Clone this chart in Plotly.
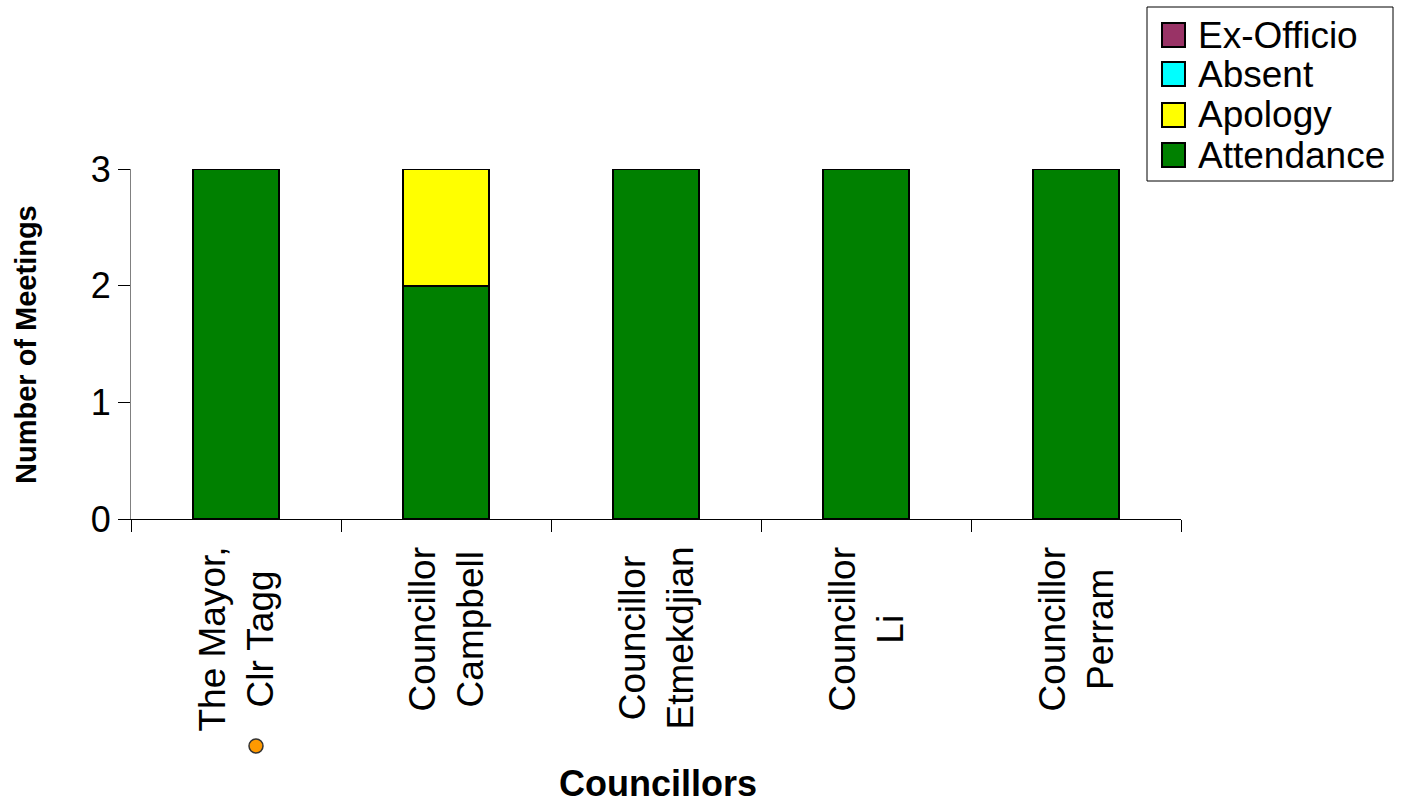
import plotly.graph_objects as go

# Councillor attendance at meetings
councillors = ["The Mayor,<br>Clr Tagg", "Councillor<br>Campbell", "Councillor<br>Etmekdjian",
               "Councillor<br>Li", "Councillor<br>Perram"]
attendance = [3, 2, 3, 3, 3]
apology = [0, 1, 0, 0, 0]
absent = [0, 0, 0, 0, 0]
ex_officio = [0, 0, 0, 0, 0]
y_ticks = [0, 1, 2, 3]

FONT = "Liberation Sans, Arial, sans-serif"

# plot area in pixels
W, H = 1402, 804
L, R, T, B = 131, 1181, 169, 519


def px_x(px):
    return (px - L) / (R - L)


def px_y(py):
    return (B - py) / (B - T)


series = [
    ("Attendance", attendance, "#008000"),
    ("Apology", apology, "#ffff00"),
    ("Absent", absent, "#00ffff"),
    ("Ex-Officio", ex_officio, "#993366"),
]

fig = go.Figure()
for name, vals, color in series:
    fig.add_trace(go.Bar(
        x=councillors, y=vals, name=name,
        marker=dict(color=color, line=dict(color="black", width=2)),
    ))

fig.update_layout(
    barmode="stack",
    bargap=0.595,
    width=W, height=H,
    margin=dict(l=L, r=W - R, t=T, b=H - B, autoexpand=False),
    paper_bgcolor="white", plot_bgcolor="white",
    font=dict(family=FONT, color="black"),
    showlegend=False,
)

fig.update_xaxes(
    type="category",
    showticklabels=False,
    showline=True, linecolor="black", linewidth=1,
    ticks="outside", tickson="boundaries", ticklen=12, tickcolor="black",
    showgrid=False,
)
fig.update_yaxes(
    range=[0, 3],
    tickvals=y_ticks,
    tickfont=dict(size=36, family=FONT),
    showline=True, linecolor="#808080", linewidth=1,
    ticks="outside", ticklen=12, tickcolor="black",
    showgrid=False, zeroline=False,
)

annotations = []

# category labels, rotated with centred lines
for c in councillors:
    annotations.append(dict(
        x=c, xref="x", y=px_y(545), yref="paper",
        text=c, textangle=-90, showarrow=False,
        xanchor="center", yanchor="top", align="center",
        font=dict(size=37, family=FONT),
    ))

# axis titles
annotations.append(dict(
    x=px_x(658), xref="paper", y=px_y(783), yref="paper",
    text="<b>Councillors</b>", showarrow=False,
    xanchor="center", yanchor="middle",
    font=dict(size=36, family=FONT),
))
annotations.append(dict(
    x=px_x(26), xref="paper", y=px_y(345), yref="paper",
    text="<b>Number of Meetings</b>", textangle=-90, showarrow=False,
    xanchor="center", yanchor="middle",
    font=dict(size=29, family=FONT),
))

shapes = []

# legend box
shapes.append(dict(
    type="rect", xref="paper", yref="paper",
    x0=px_x(1147), x1=px_x(1393), y0=px_y(181), y1=px_y(7),
    line=dict(color="black", width=1), fillcolor="white", layer="above",
))
legend_rows = [("Ex-Officio", "#993366", 35), ("Absent", "#00ffff", 74),
               ("Apology", "#ffff00", 115), ("Attendance", "#008000", 155)]
for label, color, cy in legend_rows:
    shapes.append(dict(
        type="rect", xref="paper", yref="paper",
        x0=px_x(1162), x1=px_x(1185), y0=px_y(cy + 12), y1=px_y(cy - 12),
        line=dict(color="black", width=2), fillcolor=color, layer="above",
    ))
    annotations.append(dict(
        x=px_x(1196), xref="paper", y=px_y(cy), yref="paper",
        text=label, showarrow=False, xanchor="left", yanchor="middle",
        font=dict(size=37, family=FONT),
    ))

# small orange marker beside the mayor's label
shapes.append(dict(
    type="circle", xref="paper", yref="paper",
    xsizemode="pixel", ysizemode="pixel",
    xanchor=px_x(256), yanchor=px_y(746),
    x0=-7, x1=7, y0=-7, y1=7,
    fillcolor="#ff9900", line=dict(color="#333333", width=1.5),
))

fig.update_layout(annotations=annotations, shapes=shapes)

fig.write_html("out.html")
